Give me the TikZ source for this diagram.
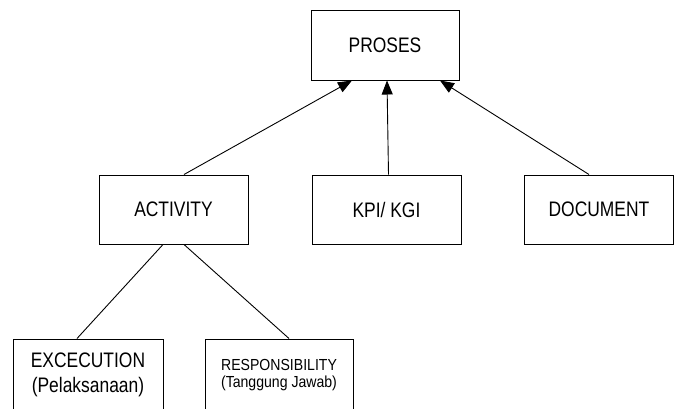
\documentclass[tikz,border=0pt]{standalone}
\usepackage{fontspec}
\setmainfont{Liberation Sans}
\usetikzlibrary{arrows.meta}
\newcommand{\sqz}[1]{\scalebox{0.83}[1]{#1}}
\newcommand{\sqs}[1]{\scalebox{0.88}[1]{#1}}
\begin{document}
\begin{tikzpicture}[x=1pt,y=-1pt,
  box/.style={draw,rectangle,line width=1pt,inner sep=0pt,minimum width=149pt,minimum height=69pt,
    font=\fontsize{21}{25}\selectfont,align=center},
  smallbox/.style={box,font=\fontsize{16}{16.5}\selectfont},
  link/.style={line width=0.9pt},
  arr/.style={link,-{Triangle[length=14pt,width=11pt]}}]
\useasboundingbox (0,0) rectangle (677,408);
\node[box,minimum width=148pt,minimum height=70pt] (pro) at (385,45) {\sqz{PROSES}};
\node[box] (act) at (173.5,209.5) {\sqz{ACTIVITY}};
\node[box] (kpi) at (386.5,209.5) {\sqz{KPI/ KGI}};
\node[box] (doc) at (599,209.5) {\sqz{DOCUMENT}};
\node[box,minimum width=150pt,minimum height=72pt] (exe) at (88,375) {\sqz{EXCECUTION}\\\sqz{(Pelaksanaan)}};
\node[smallbox,minimum width=148pt,minimum height=72pt] (res) at (279,375) {\sqs{RESPONSIBILITY}\\\sqs{(Tanggung Jawab)}};
\draw[arr] ([xshift=10.5pt]act.north) -- ([xshift=-33pt]pro.south);
\draw[arr] ([xshift=2pt]kpi.north) -- ([xshift=2pt]pro.south);
\draw[arr] ([xshift=-10pt]doc.north) -- ([xshift=55pt]pro.south);
\draw[link] ([xshift=-10.5pt]act.south) -- ([xshift=-11pt]exe.north);
\draw[link] ([xshift=10.5pt]act.south) -- ([xshift=10pt]res.north);
\end{tikzpicture}
\end{document}
